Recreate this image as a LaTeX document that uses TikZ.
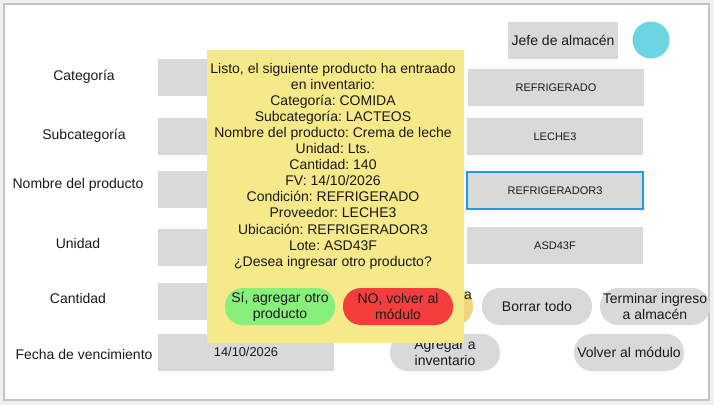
\documentclass[tikz,border=0pt]{standalone}
\usepackage{fontspec}
\setmainfont{Liberation Sans}
\frenchspacing
\definecolor{boxgray}{HTML}{D9D9D9}
\definecolor{popy}{HTML}{F5E98A}
\definecolor{okgreen}{HTML}{87F07A}
\definecolor{nored}{HTML}{F43D3D}
\definecolor{hidorange}{HTML}{F0D47C}
\definecolor{avcyan}{HTML}{6BD5E1}
\definecolor{selblue}{HTML}{1C9BF0}
\definecolor{txt}{HTML}{1A1A1A}
\definecolor{outbg}{HTML}{F0F0F0}
\definecolor{frame}{HTML}{C4C4C4}
\begin{document}
\begin{tikzpicture}[x=1pt,y=-1pt,
  lbl/.style={font=\fontsize{14}{16}\selectfont, text=txt, inner sep=0pt},
  field/.style={fill=boxgray, draw=none, anchor=north west, inner sep=0pt, outer sep=0pt, minimum height=37pt, text=txt, font=\fontsize{11}{13}\selectfont},
  pill/.style={fill=boxgray, draw=none, anchor=north west, rounded corners=18pt, inner sep=0pt, outer sep=0pt, minimum width=110pt, minimum height=37pt, text=txt, align=center, font=\fontsize{14}{16}\selectfont}
]
\useasboundingbox (0,0) rectangle (714,405);
\fill[outbg] (0,0) rectangle (714,405);
\draw[frame, fill=white, line width=1.2pt] (4,4) rectangle (709,400);

% header
\node[field, minimum width=110pt, font=\fontsize{14}{16}\selectfont] (jefe) at (508,22) {Jefe de almacén};
\node[circle, fill=avcyan, minimum size=37pt, inner sep=0pt] (avatar) at (651,40) {};

% left labels
\node[lbl] (lcat) at (84,77) {Categoría};
\node[lbl] (lsub) at (84,136) {Subcategoría};
\node[lbl] (lnom) at (78,185) {Nombre del producto};
\node[lbl] (luni) at (78,243) {Unidad};
\node[lbl] (lcan) at (78,298) {Cantidad};
\node[lbl] (lfec) at (84,354) {Fecha de vencimiento};

% left fields
\node[field, minimum width=176pt] (fcat) at (158,59) {};
\node[field, minimum width=176pt] (fsub) at (158,118) {};
\node[field, minimum width=176pt] (fnom) at (158,171) {};
\node[field, minimum width=176pt] (funi) at (158,229) {};
\node[field, minimum width=176pt] (fcan) at (158,283) {};
\node[field, minimum width=176pt, minimum height=35pt, font=\fontsize{12.8}{14}\selectfont] (ffec) at (158,334) {14/10/2026};
\fill[boxgray] (158,369) rectangle (334,371);

% right fields
\node[field, minimum width=176pt] (fcond) at (468,69) {REFRIGERADO};
\node[field, minimum width=176pt] (fprov) at (467,118) {LECHE3};
\node[field, minimum width=176pt, draw=selblue, line width=2pt] (fubic) at (467,172) {REFRIGERADOR3};
\node[field, minimum width=176pt] (flote) at (467,227) {ASD43F};

% buttons
\node[pill, fill=hidorange, minimum width=110pt] (hidden) at (363,288) {};
\node[lbl] (hiddentxt) at (468,296) {a};
\node[pill] (borrar) at (482,288) {Borrar todo};
\node[pill] (terminar) at (600,288) {Terminar ingreso\\a almacén};
\node[pill] (agregar) at (390,334) {Agregar a\\inventario};
\node[pill] (volver) at (574,334) {Volver al módulo};

% popup
\node[fill=popy, anchor=north west, minimum width=257pt, minimum height=293pt, inner sep=0pt] (popup) at (207,50) {};
\node[align=center, text=txt, font=\fontsize{14}{16.1}\selectfont, inner sep=0pt] (poptext) at (333,166) {Listo, el siguiente producto ha entraado\\en inventario:\\Categoría: COMIDA\\Subcategoría: LACTEOS\\Nombre del producto: Crema de leche\\Unidad: Lts.\\Cantidad: 140\\FV: 14/10/2026\\Condición: REFRIGERADO\\Proveedor: LECHE3\\Ubicación: REFRIGERADOR3\\Lote: ASD43F\\¿Desea ingresar otro producto?};
\node[pill, fill=okgreen] (si) at (225,288) {Sí, agregar otro\\producto};
\node[pill, fill=nored] (no) at (343,288) {NO, volver al\\módulo};
\end{tikzpicture}
\end{document}
